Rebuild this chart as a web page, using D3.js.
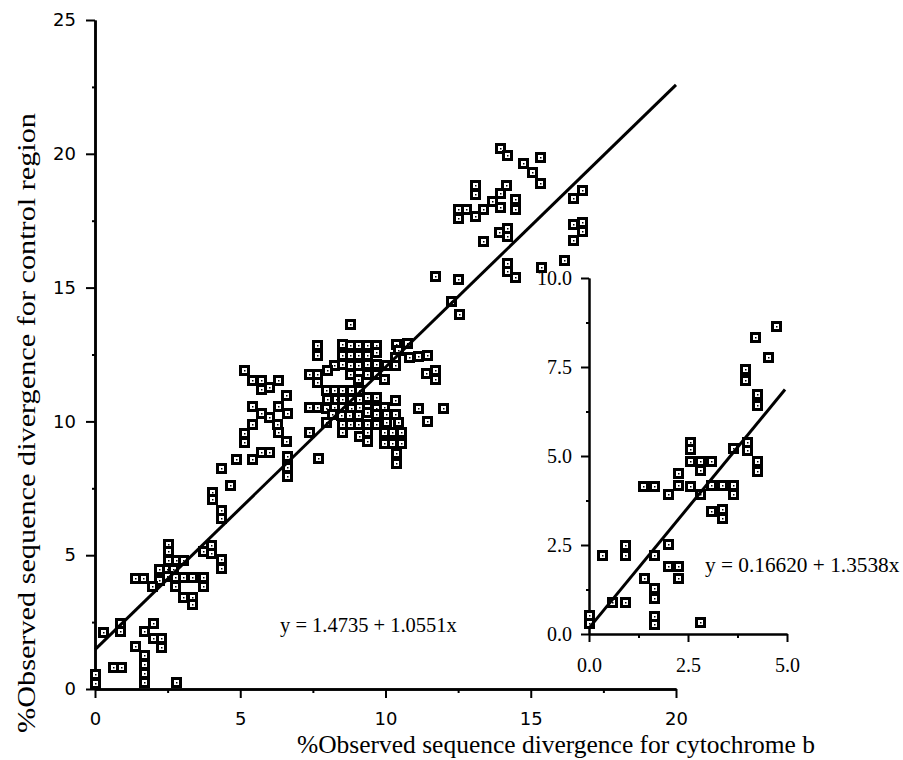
<!DOCTYPE html>
<html>
<head>
<meta charset="utf-8">
<script src="https://cdn.jsdelivr.net/npm/d3@7"></script>
<style>
  body { margin: 0; background: #fff; }
  .tick text { fill: #000; }
  .serif { font-family: "Liberation Serif", "Times New Roman", serif; }
</style>
</head>
<body>
<div id="chart"></div>
<script>
// % divergence, cytochrome b (x) vs control region (y)
var mainPoints = [
  // low corner
  [0, 0.55], [0, 0.24], [0.28, 2.13], [0.86, 2.47], [0.86, 2.17], [0.63, 0.84], [0.88, 0.84],
  [1.38, 1.59], [1.70, 1.26], [1.70, 0.93], [1.70, 0.58], [1.70, 0.27], [1.70, 2.17], [1.98, 2.47],
  [1.98, 1.92], [2.27, 1.92], [2.27, 1.57], [2.78, 0.28],
  // 4-5 cluster
  [2.52, 5.42], [2.52, 5.14], [2.52, 4.82], [2.78, 4.82], [3.04, 4.82], [2.21, 4.48], [2.21, 4.07],
  [1.38, 4.15], [1.66, 4.15], [1.95, 3.86], [2.47, 4.48], [2.70, 4.48], [2.47, 4.23], [2.75, 4.17],
  [3.04, 4.17], [3.35, 4.17], [3.73, 4.17], [2.75, 3.86], [3.73, 3.86], [3.04, 3.45], [3.35, 3.45],
  [3.35, 3.17], [4.01, 5.39], [3.73, 5.14], [4.01, 5.07], [4.34, 4.86], [4.34, 4.54],
  // ramp 6-10
  [4.35, 6.69], [4.35, 6.38], [4.04, 7.38], [4.04, 7.10], [4.64, 7.64], [4.33, 8.26], [4.84, 8.61],
  [5.40, 8.61], [5.70, 8.85], [5.98, 8.85], [6.61, 8.69], [6.61, 8.31], [6.61, 7.97], [7.68, 8.65],
  [5.12, 9.56], [5.12, 9.24], [5.41, 9.91], [6.27, 9.91], [6.30, 9.60], [6.59, 9.25], [7.38, 9.61],
  // left of the line, 10-12
  [5.12, 11.93], [5.41, 11.53], [5.72, 11.53], [5.72, 11.22], [6.00, 11.28], [6.30, 11.53],
  [6.59, 10.97], [5.41, 10.56], [5.72, 10.33], [6.00, 10.16], [6.29, 10.56], [6.61, 10.33],
  // central cluster
  [8.78, 13.65], [7.65, 12.84], [7.65, 12.50],
  [8.49, 12.90], [8.78, 12.84], [9.06, 12.84], [9.35, 12.84], [9.66, 12.84],
  [8.49, 12.50], [8.78, 12.50], [9.06, 12.50], [9.35, 12.50], [9.66, 12.59],
  [10.35, 12.90], [10.75, 12.93], [10.44, 12.65],
  [10.31, 12.40], [10.81, 12.40], [11.13, 12.46], [11.44, 12.50],
  [8.22, 12.11], [8.49, 12.13], [8.78, 12.11], [9.06, 12.11], [9.37, 12.13], [9.66, 12.13],
  [10.00, 12.11], [10.31, 12.11],
  [8.00, 11.93], [7.36, 11.78], [7.65, 11.78], [7.65, 11.47],
  [8.78, 11.78], [9.06, 11.57], [9.37, 11.78], [9.66, 11.78], [9.95, 11.57],
  [11.41, 11.80], [11.70, 11.93], [11.70, 11.57],
  [7.94, 11.19], [8.22, 11.19], [8.51, 11.19], [8.80, 11.19], [9.08, 11.19],
  [9.37, 10.93], [9.66, 10.93],
  [8.00, 10.83], [8.28, 10.83], [8.51, 10.83], [8.80, 10.83], [9.08, 10.83], [10.31, 10.80],
  [7.36, 10.53], [7.65, 10.53], [7.94, 10.50], [8.22, 10.53], [8.51, 10.53], [8.80, 10.50],
  [9.08, 10.53], [9.37, 10.53], [9.66, 10.50], [9.95, 10.53],
  [8.17, 10.28], [8.46, 10.25], [8.74, 10.25], [9.06, 10.25], [9.37, 10.34], [9.66, 10.28],
  [10.00, 10.28], [10.31, 10.28],
  [7.94, 9.99], [8.49, 9.90], [8.78, 9.90], [9.06, 9.90], [9.37, 9.90], [9.66, 9.90],
  [10.00, 9.96], [10.44, 9.98],
  [11.13, 10.49], [11.99, 10.50], [11.42, 10.03],
  [8.49, 9.59], [9.08, 9.47], [9.37, 9.59], [9.37, 9.28],
  [9.95, 9.59], [10.23, 9.59], [10.52, 9.59],
  [9.95, 9.19], [10.23, 9.19], [10.52, 9.19],
  [10.36, 8.83], [10.36, 8.45],
  // upper group
  [12.26, 14.51], [12.52, 14.00], [11.70, 15.42], [12.50, 15.33],
  [13.94, 20.20], [14.17, 19.94], [15.32, 19.89], [14.72, 19.64], [15.04, 19.32], [15.32, 18.92],
  [13.09, 18.82], [13.09, 18.48], [14.15, 18.85], [13.94, 18.52], [13.66, 18.25], [13.94, 18.01],
  [14.46, 18.32], [14.46, 17.94], [13.37, 17.94], [12.51, 17.92], [12.77, 17.92], [12.51, 17.61],
  [13.09, 17.67], [14.18, 17.23], [14.18, 16.94], [13.89, 17.08], [13.37, 16.73], [14.18, 15.92],
  [14.18, 15.61], [14.46, 15.39],
  [15.35, 15.78], [16.16, 16.03], [16.76, 18.66], [16.47, 18.34], [16.44, 17.38], [16.76, 17.47],
  [16.76, 17.10], [16.47, 16.78]
];

// inset: close pairs only
var insetPoints = [
  [4.73, 8.65], [4.20, 8.35], [4.53, 7.78], [3.94, 7.44], [3.94, 7.14], [4.24, 6.75], [4.24, 6.44],
  [3.64, 5.22], [3.98, 5.38], [3.98, 5.16], [4.25, 4.87], [4.25, 4.57], [2.56, 5.38], [2.56, 5.20],
  [2.56, 4.87], [2.80, 4.87], [3.07, 4.87], [2.80, 4.61], [2.24, 4.51], [2.24, 4.19], [1.99, 3.94],
  [1.37, 4.17], [1.65, 4.17], [2.56, 4.17], [2.80, 3.92], [3.07, 4.19], [3.36, 4.19], [3.64, 4.19],
  [3.64, 3.94], [3.07, 3.45], [3.35, 3.52], [3.35, 3.26], [0.32, 2.23], [0.92, 2.49], [0.92, 2.23],
  [1.99, 2.53], [1.65, 2.23], [1.99, 1.90], [2.24, 1.90], [2.24, 1.57], [1.40, 1.57], [1.65, 1.29],
  [1.65, 1.01], [0.59, 0.89], [0.92, 0.89], [1.65, 0.51], [1.65, 0.29], [2.80, 0.35], [0, 0.54],
  [0, 0.31]
];

// regression lines: [intercept, slope, xmax]
var mainFit = [1.4735, 1.0551, 20];
var insetFit = [0.16620, 1.3538, 4.95];

var mainXTicks = [0, 5, 10, 15, 20];
var mainXMinor = [2.5, 7.5, 12.5, 17.5];
var mainYTicks = [0, 5, 10, 15, 20, 25];
var mainYMinor = [2.5, 7.5, 12.5, 17.5, 22.5];
var insetXTicks = [0, 2.5, 5];
var insetXMinor = [1.25, 3.75];
var insetYTicks = [0, 2.5, 5, 7.5, 10];
var insetYMinor = [1.25, 3.75, 6.25, 8.75];

var W = 903, H = 760;

var svg = d3.select("#chart").append("svg")
    .attr("width", W)
    .attr("height", H);

// scales
var x = d3.scaleLinear().domain([0, 20]).range([95, 676]);
var y = d3.scaleLinear().domain([0, 25]).range([689, 20]);
var ix = d3.scaleLinear().domain([0, 5]).range([589, 787]);
var iy = d3.scaleLinear().domain([0, 10]).range([634, 278]);

function drawAxes(g, sx, sy, opt) {
    var xa = g.append("g").attr("transform", "translate(0," + sy(0) + ")")
        .call(d3.axisBottom(sx).tickValues(opt.xt).tickSize(opt.tick).tickSizeOuter(0)
            .tickPadding(opt.xpad).tickFormat(opt.fmt));
    g.append("g").attr("transform", "translate(0," + sy(0) + ")")
        .call(d3.axisBottom(sx).tickValues(opt.xm).tickSize(4).tickSizeOuter(0).tickFormat(""));
    var ya = g.append("g").attr("transform", "translate(" + sx(0) + ",0)")
        .call(d3.axisLeft(sy).tickValues(opt.yt).tickSize(opt.tick).tickSizeOuter(0)
            .tickPadding(opt.ypad).tickFormat(opt.fmt));
    g.append("g").attr("transform", "translate(" + sx(0) + ",0)")
        .call(d3.axisLeft(sy).tickValues(opt.ym).tickSize(3).tickSizeOuter(0).tickFormat(""));

    g.selectAll(".domain").attr("stroke", "#000").attr("stroke-width", opt.lw);
    g.selectAll(".tick line").attr("stroke", "#000").attr("stroke-width", 2);
    [xa, ya].forEach(function(a) {
        a.selectAll("text")
            .attr("font-family", opt.font)
            .attr("font-size", opt.fs)
            .attr("fill", "#000");
    });
}

function drawPoints(g, pts, sx, sy) {
    var m = g.selectAll("g.pt").data(pts).enter().append("g")
        .attr("class", "pt")
        .attr("transform", function(d) {
            return "translate(" + Math.round(sx(d[0])) + "," + Math.round(sy(d[1])) + ")";
        });
    m.append("rect").attr("x", -5).attr("y", -5).attr("width", 11).attr("height", 11).attr("fill", "#000");
    m.append("rect").attr("x", -2).attr("y", -2).attr("width", 5).attr("height", 5).attr("fill", "#fff");
    m.append("rect").attr("x", 0).attr("y", 0).attr("width", 1.5).attr("height", 1.5).attr("fill", "#000");
}

function drawFit(g, fit, sx, sy) {
    var line = d3.line()
        .x(function(d) { return sx(d); })
        .y(function(d) { return sy(fit[0] + fit[1] * d); });
    g.append("path")
        .datum([0, fit[2]])
        .attr("d", line)
        .attr("fill", "none")
        .attr("stroke", "#000")
        .attr("stroke-width", 3);
}

// main plot
var main = svg.append("g");
drawAxes(main, x, y, {
    xt: mainXTicks, xm: mainXMinor, yt: mainYTicks, ym: mainYMinor,
    tick: 9, xpad: 14, ypad: 10, lw: 2.5,
    fmt: d3.format("d"), font: "DejaVu Sans", fs: 18
});
drawPoints(main, mainPoints, x, y);
drawFit(main, mainFit, x, y);

main.append("text").attr("class", "serif")
    .attr("x", 280).attr("y", 632)
    .attr("font-size", 20.5)
    .text("y = 1.4735 + 1.0551x");

// inset
var inset = svg.append("g");
drawAxes(inset, ix, iy, {
    xt: insetXTicks, xm: insetXMinor, yt: insetYTicks, ym: insetYMinor,
    tick: 8, xpad: 16, ypad: 9, lw: 2,
    fmt: d3.format(".1f"), font: "Liberation Serif", fs: 20
});
drawPoints(inset, insetPoints, ix, iy);
drawFit(inset, insetFit, ix, iy);

inset.append("text").attr("class", "serif")
    .attr("x", 705).attr("y", 572)
    .attr("font-size", 21.3)
    .text("y = 0.16620 + 1.3538x");

// axis titles
svg.append("text").attr("class", "serif")
    .attr("x", 556).attr("y", 753)
    .attr("text-anchor", "middle")
    .attr("font-size", 25)
    .attr("textLength", 518)
    .attr("lengthAdjust", "spacingAndGlyphs")
    .text("%Observed sequence divergence for cytochrome b");

svg.append("text").attr("class", "serif")
    .attr("transform", "translate(35,423) rotate(-90)")
    .attr("text-anchor", "middle")
    .attr("font-size", 25)
    .attr("textLength", 620)
    .attr("lengthAdjust", "spacingAndGlyphs")
    .text("%Observed sequence divergence for control region");
</script>
</body>
</html>
